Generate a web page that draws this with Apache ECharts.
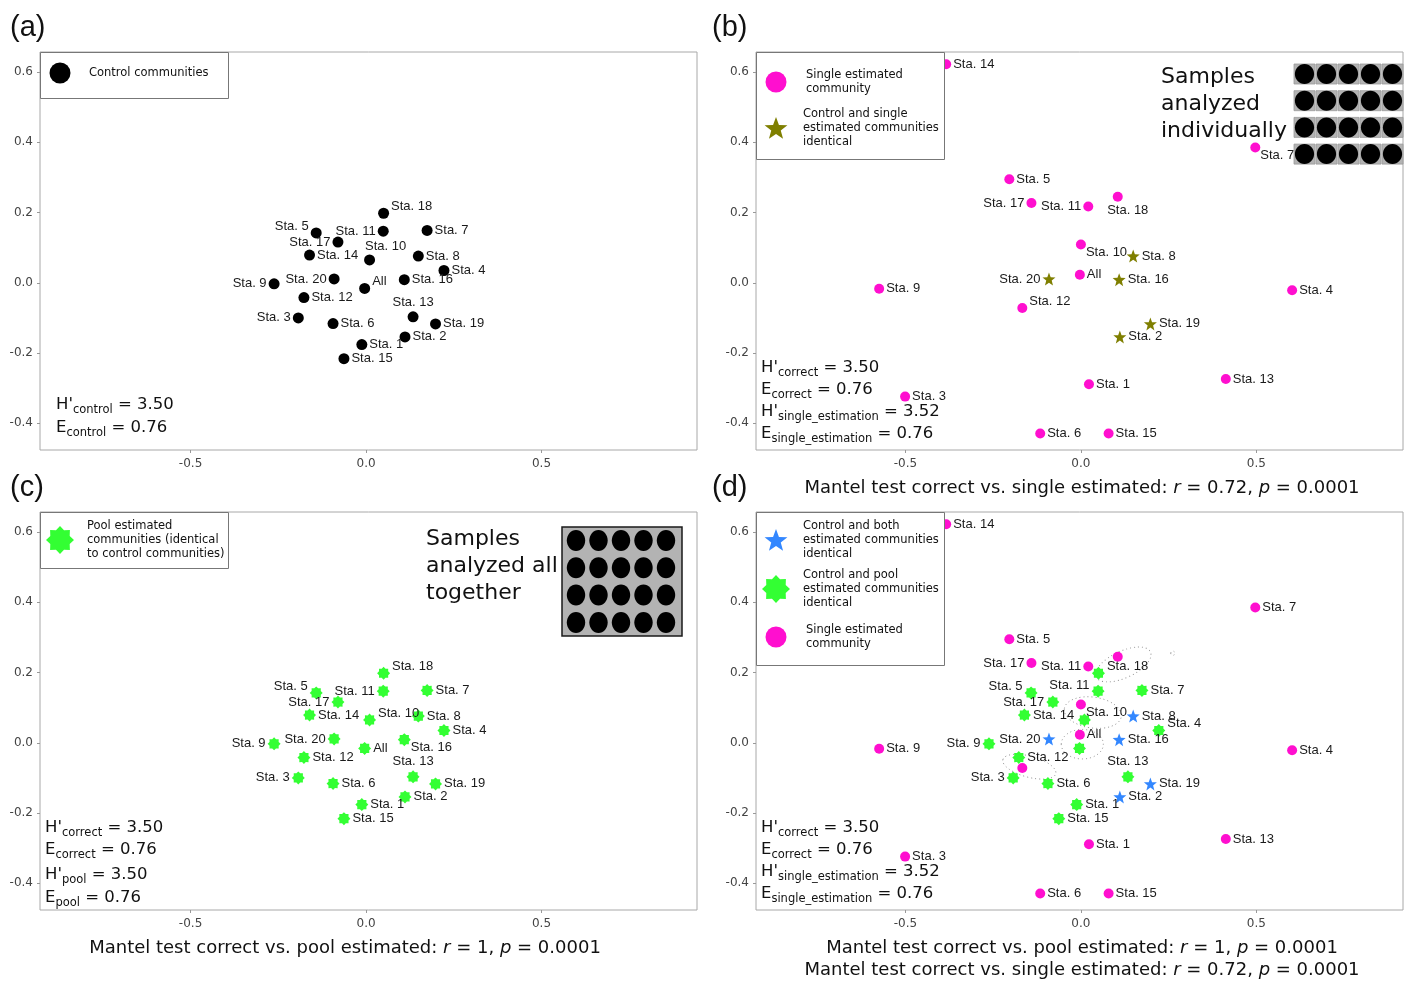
<!DOCTYPE html>
<html>
<head>
<meta charset="utf-8">
<script src="https://cdn.jsdelivr.net/npm/echarts@6/dist/echarts.min.js"></script>
<style>
  html, body { margin: 0; padding: 0; background: #fff; }
  #main { width: 1404px; height: 981px; }
</style>
</head>
<body>
<div id="main"></div>
<script>
// ---- data (NMDS coordinates) ----
var stations = ['Sta. 1', 'Sta. 2', 'Sta. 3', 'Sta. 4', 'Sta. 5', 'Sta. 6', 'Sta. 7',
  'Sta. 8', 'Sta. 9', 'Sta. 10', 'Sta. 11', 'Sta. 12', 'Sta. 13', 'Sta. 14',
  'Sta. 15', 'Sta. 16', 'Sta. 17', 'Sta. 18', 'Sta. 19', 'Sta. 20', 'All'];

// control communities (= pool estimated communities)
var controlX = [-0.012, 0.111, -0.193, 0.222, -0.142, -0.094, 0.174,
  0.149, -0.262, 0.010, 0.049, -0.177, 0.134, -0.161,
  -0.063, 0.109, -0.080, 0.050, 0.198, -0.091, -0.004];
var controlY = [-0.176, -0.154, -0.100, 0.035, 0.142, -0.116, 0.149,
  0.076, -0.003, 0.065, 0.147, -0.042, -0.097, 0.079,
  -0.216, 0.009, 0.116, 0.198, -0.117, 0.011, -0.016];

// single estimated communities
var singleX = [0.023, 0.111, -0.501, 0.602, -0.204, -0.116, 0.497,
  0.149, -0.575, 0.000, 0.021, -0.167, 0.413, -0.384,
  0.079, 0.109, -0.141, 0.105, 0.198, -0.091, -0.003];
var singleY = [-0.289, -0.154, -0.324, -0.021, 0.295, -0.429, 0.385,
  0.076, -0.017, 0.109, 0.217, -0.072, -0.274, 0.622,
  -0.429, 0.009, 0.227, 0.245, -0.117, 0.011, 0.023];

// stations where control and single estimated communities are identical
var identical = ['Sta. 2', 'Sta. 8', 'Sta. 16', 'Sta. 19', 'Sta. 20'];

var xTicks = [-0.5, 0, 0.5];
var yTicks = [-0.4, -0.2, 0, 0.2, 0.4, 0.6];

// dotted loops in panel (d), data units: centre, radii, tilt (deg)
var loopX = [0.121, 0.034, 0.004, -0.147, 0.262];
var loopY = [0.223, 0.086, -0.004, -0.068, 0.255];
var loopRx = [0.085, 0.082, 0.060, 0.078, 0.006];
var loopRy = [0.038, 0.044, 0.042, 0.030, 0.006];
var loopTilt = [25, -8, 0, -15, 0];

// ---- label placement per panel ----
var labA = {'Sta. 1': 'r', 'Sta. 2': 'r', 'Sta. 3': 'l', 'Sta. 4': 'r', 'Sta. 5': 'tl',
  'Sta. 6': 'r', 'Sta. 7': 'r', 'Sta. 8': 'r', 'Sta. 9': 'l', 'Sta. 10': 'tt',
  'Sta. 11': 'l', 'Sta. 12': 'r', 'Sta. 13': 't', 'Sta. 14': 'r', 'Sta. 15': 'r',
  'Sta. 16': 'r', 'Sta. 17': 'l', 'Sta. 18': 'tr', 'Sta. 19': 'r', 'Sta. 20': 'l', 'All': 'tr'};
var labC = Object.assign({}, labA, {'Sta. 10': 'tr', 'Sta. 16': 'br', 'All': 'r'});
var labB = {'Sta. 1': 'r', 'Sta. 3': 'r', 'Sta. 4': 'r', 'Sta. 5': 'r', 'Sta. 6': 'r',
  'Sta. 7': 'br', 'Sta. 9': 'r', 'Sta. 10': 'br', 'Sta. 11': 'l', 'Sta. 12': 'tr',
  'Sta. 13': 'r', 'Sta. 14': 'r', 'Sta. 15': 'r', 'Sta. 17': 'l', 'Sta. 18': 'bb', 'All': 'r'};
var labStar = {'Sta. 2': 'r', 'Sta. 8': 'r', 'Sta. 16': 'r', 'Sta. 19': 'r', 'Sta. 20': 'l'};
var labDMag = Object.assign({}, labB, {'Sta. 7': 'r', 'Sta. 18': 'n', 'Sta. 12': 'n'});
var labDGreen = {'Sta. 1': 'r', 'Sta. 3': 'l', 'Sta. 4': 'tr', 'Sta. 5': 'tl', 'Sta. 6': 'r',
  'Sta. 7': 'r', 'Sta. 9': 'l', 'Sta. 10': 'n', 'Sta. 11': 'tl', 'Sta. 12': 'r',
  'Sta. 13': 't', 'Sta. 14': 'r', 'Sta. 15': 'r', 'Sta. 17': 'l', 'Sta. 18': 'tr', 'All': 'n'};

var LABEL_POS = {
  r: ['right', 0, 0], l: ['left', 0, 0], t: ['top', 0, 0], b: ['bottom', 0, 0],
  tr: ['right', 0, -7], br: ['right', -2, 8], tl: ['left', 0, -6], bl: ['left', 0, 6],
  tt: ['top', 16, 0], bb: ['bottom', 10, 0]
};

function isIdent(name) { return identical.indexOf(name) >= 0; }
function notIdent(name) { return identical.indexOf(name) < 0; }
function all() { return true; }

function points(xs, ys, keep, labMap) {
  var out = [];
  stations.forEach(function (name, i) {
    if (!keep(name)) return;
    var code = labMap[name] || 'r';
    var item = { name: name, value: [xs[i], ys[i]] };
    if (code === 'n') {
      item.label = { show: false };
    } else {
      var p = LABEL_POS[code];
      item.label = { position: p[0], offset: [p[1], p[2]] };
    }
    out.push(item);
  });
  return out;
}

// star outlines
function starPts(cx, cy, n, rOut, rIn) {
  var pts = [];
  for (var k = 0; k < 2 * n; k++) {
    var r = k % 2 === 0 ? rOut : rIn;
    var a = -Math.PI / 2 + k * Math.PI / n;
    pts.push([cx + r * Math.cos(a), cy + r * Math.sin(a)]);
  }
  return pts;
}
function toPath(pts) {
  return 'path://' + pts.map(function (p, k) {
    return (k ? 'L' : 'M') + p[0].toFixed(3) + ' ' + p[1].toFixed(3);
  }).join(' ') + ' Z';
}
var STAR = toPath(starPts(0, 0, 5, 10, 4.2));
var BURST = toPath(starPts(0, 0, 8, 10, 7.6));

var PINK = '#ff0fcf', OLIVE = '#7f7f00', GREEN = '#33ff33', BLUE = '#3387ff';
var LABFONT = 'Liberation Sans';
var SANS = 'DejaVu Sans';

var labelBase = { show: true, formatter: '{b}', fontFamily: LABFONT, fontSize: 13, color: '#1a1a1a', distance: 2 };

var grids = [
  { left: 40, top: 52, width: 657, height: 398 },
  { left: 756, top: 52, width: 647, height: 398 },
  { left: 40, top: 512, width: 657, height: 398 },
  { left: 756, top: 512, width: 647, height: 398 }
].map(function (g) {
  return Object.assign({ show: true, borderColor: '#a8a8a8', borderWidth: 1, backgroundColor: '#fff' }, g);
});

function fmt(v) { return v.toFixed(1); }
function xAxis(i, min, max) {
  return { gridIndex: i, type: 'value', min: min, max: max,
    axisLine: { show: false, onZero: false }, splitLine: { show: false },
    axisTick: { show: true, customValues: xTicks, length: 3, lineStyle: { color: '#999' } },
    axisLabel: { customValues: xTicks, formatter: fmt, fontFamily: SANS, fontSize: 12, color: '#444', margin: 8 } };
}
function yAxis(i) {
  return { gridIndex: i, type: 'value', min: -0.476, max: 0.657,
    axisLine: { show: false, onZero: false }, splitLine: { show: false },
    axisTick: { show: true, customValues: yTicks, length: 3, lineStyle: { color: '#999' } },
    axisLabel: { customValues: yTicks, formatter: fmt, fontFamily: SANS, fontSize: 12, color: '#444', margin: 7 } };
}

function scatter(idx, data, symbol, size, color) {
  return { type: 'scatter', xAxisIndex: idx, yAxisIndex: idx, data: data,
    symbol: symbol, symbolSize: size, itemStyle: { color: color, opacity: 1 },
    label: labelBase, z: 3 };
}

var series = [
  scatter(0, points(controlX, controlY, all, labA), 'circle', 11, '#000'),
  scatter(1, points(singleX, singleY, notIdent, labB), 'circle', 10, PINK),
  scatter(1, points(singleX, singleY, isIdent, labStar), STAR, 13, OLIVE),
  scatter(2, points(controlX, controlY, all, labC), BURST, 13, GREEN),
  {
    type: 'custom', xAxisIndex: 3, yAxisIndex: 3, silent: true, z: 2,
    data: loopX.map(function (x, i) { return [x, loopY[i], loopRx[i], loopRy[i], loopTilt[i]]; }),
    renderItem: function (params, api) {
      var c = api.coord([api.value(0), api.value(1)]);
      var s = api.size([api.value(2), api.value(3)]);
      return { type: 'ellipse', x: c[0], y: c[1], rotation: api.value(4) * Math.PI / 180,
        shape: { cx: 0, cy: 0, rx: s[0], ry: s[1] },
        style: { fill: 'none', stroke: '#8c8c8c', lineWidth: 0.9, lineDash: [1, 3] } };
    }
  },
  scatter(3, points(controlX, controlY, notIdent, labDGreen), BURST, 13, GREEN),
  scatter(3, points(singleX, singleY, notIdent, labDMag), 'circle', 10, PINK),
  scatter(3, points(controlX, controlY, isIdent, labStar), STAR, 13, BLUE)
];

// ---- annotations ----
var G = [];
function text(x, y, str, font, align, extra) {
  var st = Object.assign({ text: str, font: font, fill: '#111', align: align || 'left',
    textAlign: align || 'left', verticalAlign: 'middle', textVerticalAlign: 'middle' }, extra || {});
  G.push({ type: 'text', x: x, y: y, z: 100, style: st });
}
function box(x, y, w, h) {
  G.push({ type: 'rect', z: 99, shape: { x: x + 0.5, y: y + 0.5, width: w, height: h },
    style: { fill: '#fff', stroke: '#777', lineWidth: 1 } });
}
function poly(cx, cy, n, ro, ri, color) {
  G.push({ type: 'polygon', z: 100, shape: { points: starPts(cx, cy, n, ro, ri) }, style: { fill: color } });
}
function dot(cx, cy, r, color) {
  G.push({ type: 'circle', z: 100, shape: { cx: cx, cy: cy, r: r }, style: { fill: color } });
}
var LEG = '11.5px "DejaVu Sans"';
var legLH = { lineHeight: 14 };

// panel letters
text(10, 28, '(a)', '29px "Liberation Sans"');
text(712, 28, '(b)', '29px "Liberation Sans"');
text(10, 488, '(c)', '29px "Liberation Sans"');
text(712, 488, '(d)', '29px "Liberation Sans"');

// legends
box(40, 52, 188, 46);
dot(60, 73, 10.5, '#000');
text(89, 73, 'Control communities', LEG);

box(756, 52, 188, 107);
dot(776, 82, 10.5, PINK);
text(806, 82, 'Single estimated\ncommunity', LEG, 'left', legLH);
poly(776, 129, 5, 12, 5, OLIVE);
text(803, 128, 'Control and single\nestimated communities\nidentical', LEG, 'left', legLH);

box(40, 512, 188, 56);
poly(60, 540, 8, 14, 10.5, GREEN);
text(87, 540, 'Pool estimated\ncommunities (identical\nto control communities)', LEG, 'left', legLH);

box(756, 512, 188, 153);
poly(776, 541, 5, 12, 5, BLUE);
text(803, 540, 'Control and both\nestimated communities\nidentical', LEG, 'left', legLH);
poly(776, 589, 8, 14, 10.5, GREEN);
text(803, 589, 'Control and pool\nestimated communities\nidentical', LEG, 'left', legLH);
dot(776, 637, 10.5, PINK);
text(806, 637, 'Single estimated\ncommunity', LEG, 'left', legLH);

// sample sketches
text(1161, 104, 'Samples\nanalyzed\nindividually', '22px "DejaVu Sans"', 'left', { lineHeight: 27 });
for (var j = 0; j < 4; j++) {
  for (var i = 0; i < 5; i++) {
    G.push({ type: 'rect', z: 100, shape: { x: 1294 + i * 22, y: 64 + j * 26.7, width: 21, height: 20 },
      style: { fill: '#b3b3b3', stroke: '#9a9a9a', lineWidth: 0.8 } });
    G.push({ type: 'ellipse', z: 101, shape: { cx: 1304.5 + i * 22, cy: 74 + j * 26.7, rx: 9.6, ry: 10 },
      style: { fill: '#000' } });
  }
}
text(426, 566, 'Samples\nanalyzed all\ntogether', '22px "DejaVu Sans"', 'left', { lineHeight: 27 });
G.push({ type: 'rect', z: 100, shape: { x: 562, y: 527, width: 120, height: 109 },
  style: { fill: '#b3b3b3', stroke: '#1a1a1a', lineWidth: 1.5 } });
for (var j2 = 0; j2 < 4; j2++) {
  for (var i2 = 0; i2 < 5; i2++) {
    G.push({ type: 'ellipse', z: 101, shape: { cx: 576 + i2 * 22.5, cy: 540.5 + j2 * 27.3, rx: 9.2, ry: 10.5 },
      style: { fill: '#000' } });
  }
}

// diversity statistics
var STAT_RICH = {
  m: { fontFamily: SANS, fontSize: 16.5, color: '#111', lineHeight: 22 },
  s: { fontFamily: SANS, fontSize: 11.5, color: '#111', lineHeight: 13, verticalAlign: 'bottom' }
};
function stat(x, y, main, sub, rest) {
  text(x, y, '{m|' + main + '}{s|' + sub + '}{m|' + rest + '}', '16.5px "DejaVu Sans"', 'left', { rich: STAT_RICH });
}
stat(56, 405, "H'", 'control', ' = 3.50');
stat(56, 428, 'E', 'control', ' = 0.76');

stat(761, 368, "H'", 'correct', ' = 3.50');
stat(761, 390, 'E', 'correct', ' = 0.76');
stat(761, 412, "H'", 'single_estimation', ' = 3.52');
stat(761, 434, 'E', 'single_estimation', ' = 0.76');

stat(45, 828, "H'", 'correct', ' = 3.50');
stat(45, 850, 'E', 'correct', ' = 0.76');
stat(45, 875, "H'", 'pool', ' = 3.50');
stat(45, 898, 'E', 'pool', ' = 0.76');

stat(761, 828, "H'", 'correct', ' = 3.50');
stat(761, 850, 'E', 'correct', ' = 0.76');
stat(761, 872, "H'", 'single_estimation', ' = 3.52');
stat(761, 894, 'E', 'single_estimation', ' = 0.76');

// Mantel test captions
var MANTEL_RICH = {
  m: { fontFamily: SANS, fontSize: 18, color: '#111' },
  i: { fontFamily: SANS, fontSize: 18, color: '#111', fontStyle: 'italic' }
};
function mantel(x, y, what, r, p) {
  text(x, y, '{m|Mantel test correct vs. ' + what + ' estimated: }{i|r}{m| = ' + r + ', }{i|p}{m| = ' + p + '}',
    '18px "DejaVu Sans"', 'center', { rich: MANTEL_RICH });
}
mantel(1082, 488, 'single', '0.72', '0.0001');
mantel(345, 948, 'pool', '1', '0.0001');
mantel(1082, 948, 'pool', '1', '0.0001');
mantel(1082, 970, 'single', '0.72', '0.0001');

var chart = echarts.init(document.getElementById('main'), null, { renderer: 'canvas' });
chart.setOption({
  animation: false,
  backgroundColor: '#fff',
  grid: grids,
  xAxis: [xAxis(0, -0.929, 0.943), xAxis(1, -0.926, 0.918), xAxis(2, -0.929, 0.943), xAxis(3, -0.926, 0.918)],
  yAxis: [yAxis(0), yAxis(1), yAxis(2), yAxis(3)],
  series: series,
  graphic: { elements: G }
});
</script>
</body>
</html>
